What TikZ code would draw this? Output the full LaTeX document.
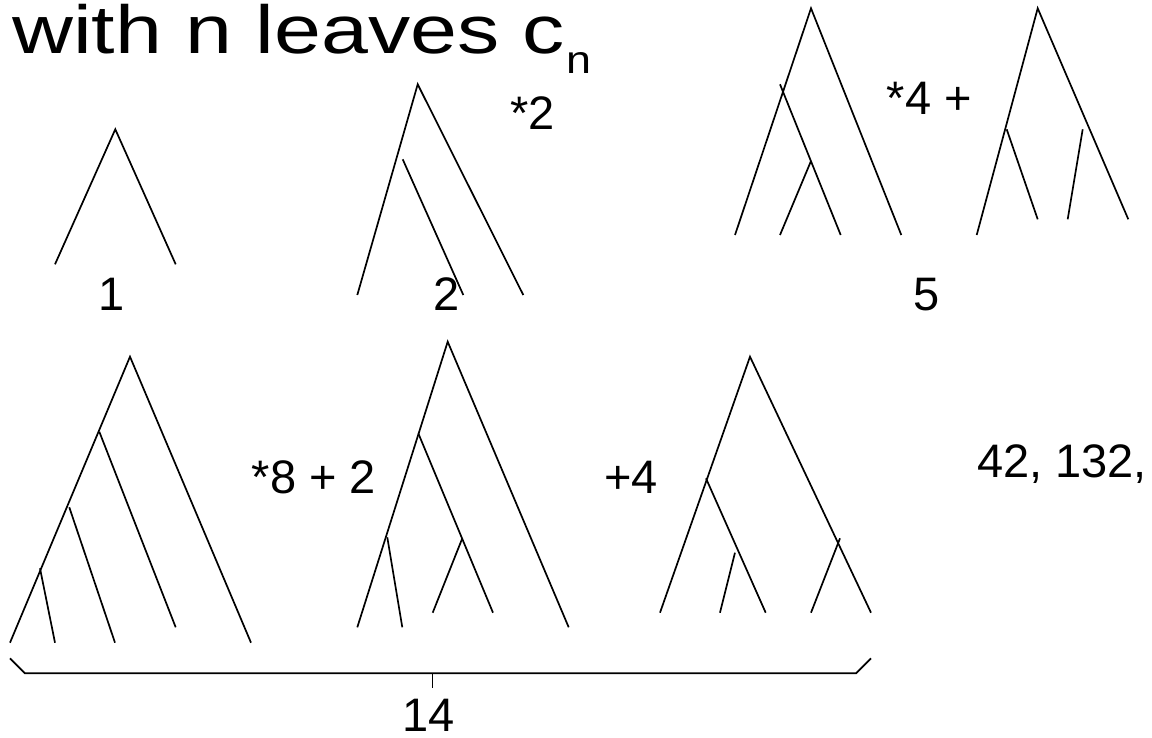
\documentclass[tikz,border=0pt]{standalone}
\usepackage{fontspec}
\setmainfont{Liberation Sans}
\begin{document}
\begin{tikzpicture}[x=1pt,y=-1pt,
  br/.style={line width=1.7pt,line cap=butt,line join=miter},
  lbl/.style={inner sep=0pt,outer sep=0pt,font=\fontsize{47}{47}\selectfont}]
\useasboundingbox (0,0) rectangle (1152,738);
% title
\node[inner sep=0pt,anchor=base west] (title) at (12,53.3)
  {\scalebox{1.24}[1]{\fontsize{68}{68}\selectfont with n leaves c}};
\node[inner sep=0pt,anchor=base west] (sub) at (566,73.3)
  {\scalebox{1.15}[1]{\fontsize{39}{39}\selectfont n}};
% tree 1
\coordinate (t1a) at (115.3,129.3);
\coordinate (t1l) at (55,264.3);
\coordinate (t1r) at (175.7,264.3);
\draw[br] (t1l) -- (t1a) -- (t1r);
\node[lbl,anchor=base] (n1) at (112,310.7) {1};
% tree 2
\coordinate (t2a) at (417.7,84.3);
\coordinate (t2l) at (357.3,295);
\coordinate (t2r) at (523.3,295);
\coordinate (t2i) at (402.7,159.3);
\coordinate (t2il) at (463.3,295);
\draw[br] (t2l) -- (t2a) -- (t2r);
\draw[br] (t2i) -- (t2il);
\node[lbl,anchor=base] (n2) at (446.4,310) {2};
\node[lbl,anchor=base west] (m2) at (510.3,130) {*2};
% tree 5a
\coordinate (t5a) at (811,8.3);
\coordinate (t5l) at (735,235);
\coordinate (t5r) at (901.3,235);
\coordinate (t5i) at (780,84.3);
\coordinate (t5il) at (840.7,235);
\coordinate (t5j) at (811,161);
\coordinate (t5jl) at (780,235);
\draw[br] (t5l) -- (t5a) -- (t5r);
\draw[br] (t5i) -- (t5il);
\draw[br] (t5j) -- (t5jl);
\node[lbl,anchor=base west] (m4) at (886.9,115) {*4 +};
% tree 5b
\coordinate (t6a) at (1037.7,8.3);
\coordinate (t6l) at (976.7,235);
\coordinate (t6r) at (1128.3,219.3);
\coordinate (t6i) at (1006.7,129.3);
\coordinate (t6il) at (1037.7,219.3);
\coordinate (t6j) at (1082.7,129.3);
\coordinate (t6jl) at (1067.7,219.3);
\draw[br] (t6l) -- (t6a) -- (t6r);
\draw[br] (t6i) -- (t6il);
\draw[br] (t6j) -- (t6jl);
\node[lbl,anchor=base] (n5) at (926.2,310) {5};
% bottom-left tree
\coordinate (b1a) at (130,356.7);
\coordinate (b1l) at (10,642.7);
\coordinate (b1r) at (251,642.7);
\coordinate (b1p) at (99.3,431.7);
\coordinate (b1pl) at (175.7,627.3);
\coordinate (b1q) at (69.3,507.3);
\coordinate (b1ql) at (115,642.7);
\coordinate (b1s) at (40,568.3);
\coordinate (b1sl) at (55,642.7);
\draw[br] (b1l) -- (b1a) -- (b1r);
\draw[br] (b1p) -- (b1pl);
\draw[br] (b1q) -- (b1ql);
\draw[br] (b1s) -- (b1sl);
\node[lbl,anchor=base west] (m8) at (251.9,493) {*8 + 2};
% bottom-middle tree
\coordinate (b2a) at (447.7,341.7);
\coordinate (b2l) at (357.3,627.3);
\coordinate (b2r) at (568.7,627.3);
\coordinate (b2p) at (418.3,433.3);
\coordinate (b2pl) at (493,612.7);
\coordinate (b2q) at (462.3,538.3);
\coordinate (b2ql) at (432.7,612.7);
\coordinate (b2s) at (387.3,537.3);
\coordinate (b2sl) at (402.3,627.3);
\draw[br] (b2l) -- (b2a) -- (b2r);
\draw[br] (b2p) -- (b2pl);
\draw[br] (b2q) -- (b2ql);
\draw[br] (b2s) -- (b2sl);
\node[lbl,anchor=base west] (p4) at (604.4,493.3) {+4};
% bottom-right tree
\coordinate (b3a) at (750,356.7);
\coordinate (b3l) at (660,612.7);
\coordinate (b3r) at (871,612.7);
\coordinate (b3p) at (706,478.3);
\coordinate (b3pl) at (765.7,612.7);
\coordinate (b3q) at (735,552.7);
\coordinate (b3ql) at (720,612.7);
\coordinate (b3s) at (840,538.3);
\coordinate (b3sl) at (811,612.7);
\draw[br] (b3l) -- (b3a) -- (b3r);
\draw[br] (b3p) -- (b3pl);
\draw[br] (b3q) -- (b3ql);
\draw[br] (b3s) -- (b3sl);
% sequence
\node[lbl,anchor=base west] (seq) at (977.1,477.7) {42, 132,};
% brace
\coordinate (k1) at (10,658.3);
\coordinate (k2) at (25,673.3);
\coordinate (k3) at (856,673.3);
\coordinate (k4) at (871,658.3);
\coordinate (km) at (432.5,673.3);
\coordinate (kt) at (432.5,688.3);
\draw[br] (k1) -- (k2) -- (k3) -- (k4);
\draw[br] (km) -- (kt);
\node[lbl,anchor=base] (n14) at (428.7,731) {14};
\end{tikzpicture}
\end{document}
